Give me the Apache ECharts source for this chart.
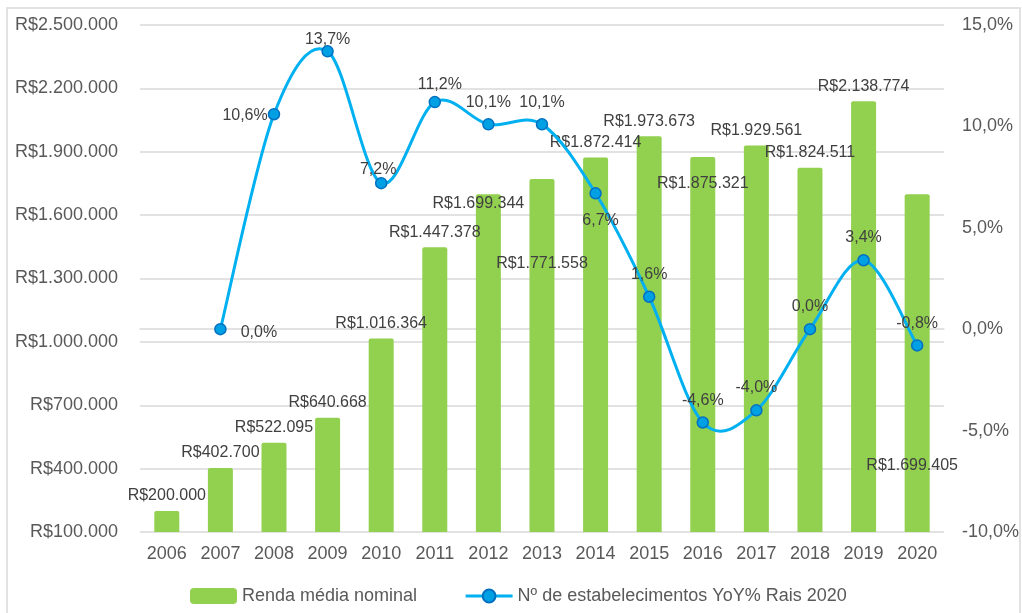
<!DOCTYPE html>
<html>
<head>
<meta charset="utf-8">
<script src="https://cdn.jsdelivr.net/npm/echarts@6/dist/echarts.min.js"></script>
<style>
  html, body { margin: 0; padding: 0; background: #fff; }
  #main { width: 1022px; height: 613px; }
</style>
</head>
<body>
<div id="main"></div>
<script>
// dados
const anos = ['2006', '2007', '2008', '2009', '2010', '2011', '2012', '2013', '2014', '2015', '2016', '2017', '2018', '2019', '2020']
const renda = [200000, 402700, 522095, 640668, 1016364, 1447378, 1699344, 1771558, 1872414, 1973673, 1875321, 1929561, 1824511, 2138774, 1699405]
const yoy = [null, 0.0, 10.6, 13.7, 7.2, 11.2, 10.1, 10.1, 6.7, 1.6, -4.6, -4.0, 0.0, 3.4, -0.8]

const nomeBarra = 'Renda média nominal'
const nomeLinha = 'Nº de estabelecimentos YoY% Rais 2020'

const fonte = '"Liberation Sans", Arial, sans-serif'
const azul = '#00B0F0'

function fmtReal(v) {
  return 'R$' + String(Math.round(v)).replace(/\B(?=(\d{3})+(?!\d))/g, '.')
}
function fmtPct(v) {
  return v.toFixed(1).replace('.', ',') + '%'
}

// ajustes de rótulo (o Excel deslocou alguns)
const ajusteBarra = {
  6: { offset: [-10, 24] },
  7: { offset: [0, 100] },
  10: { offset: [0, 42] },
  14: { offset: [-5, 286] }
}
const ajusteLinha = {
  1: { position: 'right', distance: 14, offset: [0, 3] },
  2: { position: 'left', distance: 0, offset: [0, 1] },
  3: { offset: [0, 10] },
  4: { offset: [-3, 9] },
  5: { offset: [5, 5] },
  8: { position: 'bottom', distance: 13, offset: [5, 0] }
}

// curva suavizada no estilo do Excel (Catmull-Rom), um trecho por ano
function trecho(params, api) {
  let i = api.value(0)
  if (yoy[i] == null || yoy[i + 1] == null) return null
  let pt = k => {
    if (k < 0 || k >= yoy.length || yoy[k] == null) k = Math.min(Math.max(k, i), i + 1)
    return api.coord([k, yoy[k]])
  }
  let p0 = pt(i - 1), p1 = pt(i), p2 = pt(i + 1), p3 = pt(i + 2)
  return {
    type: 'bezierCurve',
    shape: {
      x1: p1[0], y1: p1[1],
      x2: p2[0], y2: p2[1],
      cpx1: p1[0] + (p2[0] - p0[0]) / 6, cpy1: p1[1] + (p2[1] - p0[1]) / 6,
      cpx2: p2[0] - (p3[0] - p1[0]) / 6, cpy2: p2[1] - (p3[1] - p1[1]) / 6
    },
    style: { stroke: azul, lineWidth: 3, fill: null, lineCap: 'round' }
  }
}

let myChart = echarts.init(document.getElementById('main'))

let option = {
  animation: false,
  backgroundColor: '#fff',
  textStyle: { fontFamily: fonte },
  graphic: [{
    type: 'rect',
    shape: { x: 7, y: 8, width: 1013, height: 640 },
    style: { fill: 'none', stroke: '#D9D9D9', lineWidth: 1.5 },
    silent: true
  }],
  grid: { left: 140, right: 78, top: 25, bottom: 81 },
  legend: {
    left: 185,
    top: 582,
    itemWidth: 47,
    itemHeight: 16,
    itemGap: 47,
    textStyle: { color: '#595959', fontSize: 18, fontFamily: fonte },
    data: [
      nomeBarra,
      { name: nomeLinha, lineStyle: { color: azul, width: 3, opacity: 1 } }
    ]
  },
  xAxis: {
    type: 'category',
    data: anos,
    axisLine: { show: true, lineStyle: { color: '#D9D9D9', width: 1.5 } },
    axisTick: { show: false },
    axisLabel: { color: '#595959', fontSize: 18, margin: 13, fontFamily: fonte }
  },
  yAxis: [{
    type: 'value',
    min: 100000,
    max: 2500000,
    interval: 300000,
    axisLine: { show: false },
    axisTick: { show: false },
    splitLine: { lineStyle: { color: '#D9D9D9', width: 1.5 } },
    axisLabel: { color: '#595959', fontSize: 18, margin: 22, fontFamily: fonte, formatter: fmtReal }
  }, {
    type: 'value',
    min: -10,
    max: 15,
    interval: 5,
    axisLine: { show: false },
    axisTick: { show: false },
    splitLine: { show: false },
    axisLabel: { color: '#595959', fontSize: 18, margin: 18, fontFamily: fonte, formatter: fmtPct }
  }],
  series: [{
    name: nomeBarra,
    type: 'bar',
    yAxisIndex: 0,
    barWidth: 25,
    itemStyle: { color: '#92D050', borderRadius: [2, 2, 0, 0] },
    label: {
      show: true,
      position: 'top',
      distance: 7,
      color: '#404040',
      fontSize: 16,
      fontFamily: fonte,
      formatter: p => fmtReal(p.value)
    },
    data: renda.map((v, i) => ajusteBarra[i] ? { value: v, label: ajusteBarra[i] } : v)
  }, {
    name: 'curva',
    type: 'custom',
    yAxisIndex: 1,
    z: 4,
    silent: true,
    renderItem: trecho,
    data: yoy.map((v, i) => [i, v])
  }, {
    name: nomeLinha,
    type: 'line',
    yAxisIndex: 1,
    z: 5,
    symbol: 'circle',
    symbolSize: 11,
    lineStyle: { color: azul, width: 3, opacity: 0 },
    itemStyle: { color: '#00A0E4', borderColor: '#0070C0', borderWidth: 1.5 },
    label: {
      show: true,
      position: 'top',
      distance: 8,
      color: '#404040',
      fontSize: 16,
      fontFamily: fonte,
      formatter: p => fmtPct(p.value)
    },
    data: yoy.map((v, i) => ajusteLinha[i] ? { value: v, label: ajusteLinha[i] } : v)
  }]
}

myChart.setOption(option)
</script>
</body>
</html>
